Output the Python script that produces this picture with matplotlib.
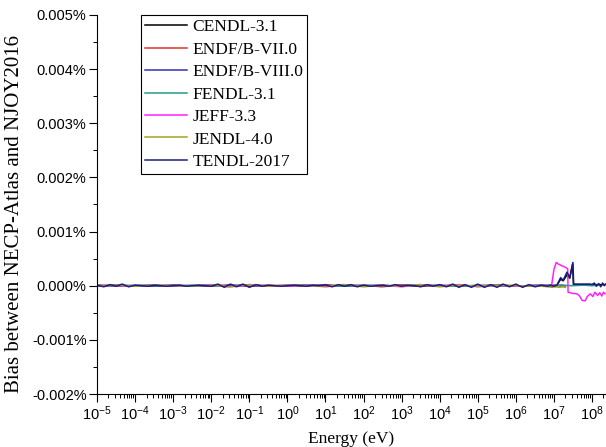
import numpy as np
import matplotlib
matplotlib.use("Agg")
import matplotlib.pyplot as plt
from matplotlib.ticker import FuncFormatter, MultipleLocator, LogLocator, NullFormatter

# ---------------- data (bias values in units of 1e-5 %) ----------------
E_fine = [1e-5, 1.5e-5, 2.2e-5, 3.2e-5, 4.6e-5, 6.8e-5,
          1e-4, 1.5e-4, 2.2e-4, 3.2e-4, 4.6e-4, 6.8e-4,
          1e-3, 1.5e-3, 2.2e-3, 3.2e-3, 4.6e-3, 6.8e-3,
          1e-2, 1.5e-2, 2.2e-2, 3.2e-2, 4.6e-2, 6.8e-2,
          1e-1, 1.5e-1, 2.2e-1, 3.2e-1, 4.6e-1, 6.8e-1,
          1e0, 1.5e0, 2.2e0, 3.2e0, 4.6e0, 6.8e0,
          1e1, 1.5e1, 2.2e1, 3.2e1, 4.6e1, 6.8e1,
          1e2, 1.5e2, 2.2e2, 3.2e2, 4.6e2, 6.8e2,
          1e3, 1.5e3, 2.2e3, 3.2e3, 4.6e3, 6.8e3,
          1e4, 1.5e4, 2.2e4, 3.2e4, 4.6e4, 6.8e4,
          1e5, 1.5e5, 2.2e5, 3.2e5, 4.6e5, 6.8e5,
          1e6, 1.5e6, 2.2e6, 3.2e6, 4.6e6, 6.8e6]
E_coarse = [1e-5, 3e-5, 1e-4, 3e-4, 1e-3, 3e-3, 1e-2, 3e-2, 1e-1, 3e-1,
            1e0, 3e0, 1e1, 3e1, 1e2, 3e2, 1e3, 3e3, 1e4, 3e4,
            1e5, 3e5, 1e6, 3e6]

# CENDL-3.1
cendl_lo = [1, -1, 0, 1, -1, 0, 1, -1, 2, -1, 0, 1, -1, 1, 0, -1, 1, 0, -1, 1, -1, 1, 0, -1]
cendl_E_hi = [8e6, 1e7, 1.2e7, 1.5e7, 1.75e7, 2.2e7, 2.6e7, 3.1e7, 3.25e7, 5e7, 1e8, 2.2e8]
cendl_hi = [0, 0, 1, 12, 9, 20, 14, 40, 2, 2, 2, 2]
# ENDF/B-VII.0
endf7_lo = [0, 1, -1, 0, 1, -1, 0, 1, -1, 1, 0, -1, 2, -1, 1, -2, 1, -1, 0, 1, -1, 1, -1, 0]
endf7_E_hi = [8e6, 1.2e7, 1.6e7, 2e7]
endf7_hi = [0, 1, -1, 0]
# ENDF/B-VIII.0
endf8_lo = [-1, 1, 0, -1, 1, 0, -1, 1, 0, -1, 1, 0, 1, -1, 0, 1, -1, 0, 1, -1, 0, 1, -1, 1]
endf8_E_hi = [8e6, 1.2e7, 1.6e7, 2e7]
endf8_hi = [1, 0, 1, 0]
# FENDL-3.1
fendl_lo = [0, -1, 1, 0, -1, 1, 0, -1, 1, 0, -1, 1, 0, -1, 1, 0, -1, 1, 0, -1, 1, 0, -1, 0]
fendl_E_hi = [8e6, 1.5e7, 3e7, 6e7, 1e8, 1.5e8]
fendl_hi = [0, 1, 0, 1, 0, 1]
# JEFF-3.3
jeff_lo = [1, 0, -1, 1, 0, -1, 2, -2, 1, 0, -1, 1, -2, 2, -1, 1, -2, 2, -1, 2, -2, 1, -1, 0]
jeff_E_hi = [7e6, 8.7e6, 1.0e7, 1.15e7, 1.3e7, 1.6e7, 2.0e7, 2.3e7, 2.35e7, 3e7, 4e7,
             4.6e7, 5.5e7, 6.6e7, 7.5e7, 9e7, 1.05e8, 1.2e8, 1.4e8, 1.6e8, 1.8e8, 2.0e8, 2.2e8]
jeff_hi = [0, 1, 30, 43, 40, 37, 34, 31, -12, -14, -15,
           -18, -27, -28, -20, -15, -20, -12, -18, -13, -19, -12, -15]
# JENDL-4.0
jendl_lo = [0, 1, -1, 1, 0, -1, 1, -2, 2, -1, 1, 0, -1, 2, -2, 1, -1, 2, -2, 1, -1, 1, 0, -1]
jendl_E_hi = [5e6, 7e6, 9e6, 1.1e7, 1.4e7, 1.7e7, 2e7]
jendl_hi = [-1, -2, -3, -2, -3, -2, -3]
# TENDL-2017
tendl_lo = [1, -2, 2, -1, 3, -2,
            1, 0, -1, 1, 0, -1,
            0, 1, -1, 0, 1, 0,
            -1, 3, -3, 3, -2, 3,
            -3, 2, -1, 1, 0, -1,
            0, 1, 0, -1, 1, 0,
            1, -2, 2, -1, 2, -2,
            1, -1, 0, 1, -1, 2,
            -1, 1, 0, -2, 2, -1,
            2, -2, 3, -3, 2, -3,
            3, -3, 2, -3, 3, -2,
            3, -3, 2, -2, 1, -1]
tendl_E_hi = [8e6, 1.0e7, 1.2e7, 1.5e7, 1.75e7, 2.2e7, 2.6e7, 3.15e7, 3.3e7, 4e7, 5e7,
              6e7, 7e7, 8e7, 9e7, 1e8, 1.15e8, 1.3e8, 1.5e8, 1.7e8, 1.9e8, 2.1e8, 2.25e8]
tendl_hi = [1, -1, 1, 15, 10, 25, 15, 43, 3, 3, 3,
            3, 3, 3, 3, 2, 5, -1, 4, -2, 5, 0, 3]

labels = ["CENDL-3.1", "ENDF/B-VII.0", "ENDF/B-VIII.0", "FENDL-3.1",
          "JEFF-3.3", "JENDL-4.0", "TENDL-2017"]
colors = ["#000000", "#e03030", "#3030b8", "#239a8c", "#ff22ff", "#a8a020", "#1c1c80"]

series = [
    (E_coarse + cendl_E_hi, cendl_lo + cendl_hi),
    (E_coarse + endf7_E_hi, endf7_lo + endf7_hi),
    (E_coarse + endf8_E_hi, endf8_lo + endf8_hi),
    (E_coarse + fendl_E_hi, fendl_lo + fendl_hi),
    (E_coarse + jeff_E_hi, jeff_lo + jeff_hi),
    (E_coarse + jendl_E_hi, jendl_lo + jendl_hi),
    (E_fine + tendl_E_hi, tendl_lo + tendl_hi),
]
UNIT = 1e-5  # values above are in units of 1e-5 %

# ---------------- plot ----------------
plt.rcParams['mathtext.fontset'] = 'custom'
plt.rcParams['mathtext.rm'] = 'Liberation Sans'
plt.rcParams['mathtext.it'] = 'Liberation Sans'

fig = plt.figure(figsize=(6.06, 4.47), dpi=100)
ax = fig.add_axes([97/606, 1 - 394/447, 1 - 97/606, (394 - 15)/447])

for (E, v), lab, c in zip(series, labels, colors):
    ax.plot(E, np.array(v) * UNIT, color=c, lw=1.1, label=lab)

ax.set_xscale('log')
ax.set_xlim(1e-5, 2.33e8)
ax.set_ylim(-0.002, 0.005)

ax.yaxis.set_major_locator(MultipleLocator(0.001))
ax.yaxis.set_minor_locator(MultipleLocator(0.0005))
ax.yaxis.set_major_formatter(FuncFormatter(lambda y, p: "%.3f%%" % y))
ax.xaxis.set_major_locator(LogLocator(base=10, numticks=20))
ax.xaxis.set_minor_locator(LogLocator(base=10, subs=np.arange(2, 10), numticks=200))
ax.xaxis.set_minor_formatter(NullFormatter())
ax.xaxis.set_major_formatter(FuncFormatter(lambda x, p: r"$10^{%d}$" % round(np.log10(x))))

for s in ['top', 'right']:
    ax.spines[s].set_visible(False)
for s in ['left', 'bottom']:
    ax.spines[s].set_linewidth(0.8)

ax.tick_params(axis='both', which='major', direction='out', length=5.5, width=0.8)
ax.tick_params(axis='both', which='minor', direction='out', length=3, width=0.7)
ax.tick_params(axis='y', which='major', labelsize=10.5, pad=2)
ax.tick_params(axis='x', which='major', labelsize=10.5, pad=2)
for t in ax.get_yticklabels():
    t.set_fontfamily('Liberation Sans')

ax.set_xlabel("Energy (eV)", fontfamily='Liberation Serif', fontsize=12.5, labelpad=6)
ax.set_ylabel("Bias between NECP-Atlas and NJOY2016", fontfamily='Liberation Serif',
              fontsize=15)
ax.yaxis.set_label_coords(-0.143, 0.475)

leg = ax.legend(loc='upper left', bbox_to_anchor=(44/509, 1.0), frameon=True,
                fancybox=False, framealpha=1, edgecolor='black',
                prop={'family': 'Liberation Serif', 'size': 12.5},
                handlelength=2.4, handletextpad=0.3, labelspacing=0.36,
                borderpad=0.25, borderaxespad=0)
leg.get_frame().set_linewidth(0.8)

fig.savefig("out.png", dpi=100)
